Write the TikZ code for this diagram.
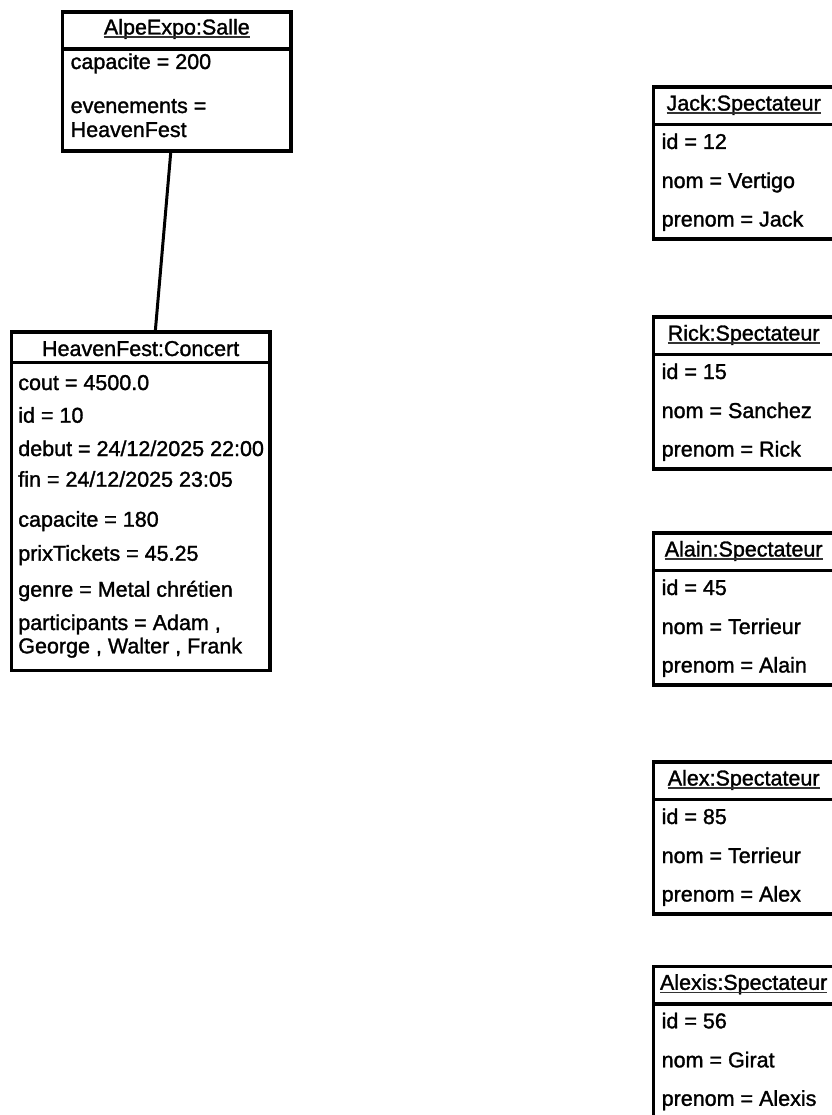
\documentclass[tikz,border=0pt]{standalone}
\usepackage{fontspec}
\setmainfont[FakeBold=1.4]{Liberation Sans}
\newcommand\attrfont{\fontsize{21.5}{24}\selectfont}
\tikzset{
  objbox/.style={draw, line width=3.5pt, inner sep=0pt, outer sep=0pt, anchor=north west},
  sepline/.style={line width=3.5pt},
  txt/.style={inner sep=0pt, outer sep=0pt, anchor=base west, font=\attrfont},
  ttl/.style={inner sep=0pt, outer sep=0pt, anchor=base, font=\attrfont},
  uline/.style={line width=1.3pt, black!80},
  link/.style={line width=3pt},
}
\begin{document}
\begin{tikzpicture}[x=1pt,y=-1pt]
\fill[white] (0,0) rectangle (831,1115);
\useasboundingbox (0,0) rectangle (831,1115);

% ---- AlpeExpo:Salle
\node[objbox, minimum width=228.3pt, minimum height=139pt] (salle) at (62.7,12) {};
\draw[sepline] ([yshift=-37pt]salle.north west) -- ([yshift=-37pt]salle.north east);
\node[ttl] (st) at (176.85,34.5) {AlpeExpo:Salle};
\draw[uline] ([yshift=-2.5pt]st.base west) -- ([yshift=-2.5pt]st.base east);
\node[txt] (s1) at (70.7,69) {capacite = 200};
\node[txt] (s2) at (70.7,113) {evenements =};
\node[txt] (s3) at (70.7,137) {HeavenFest};

% ---- HeavenFest:Concert
\node[objbox, minimum width=258.7pt, minimum height=338.5pt] (concert) at (11.3,332) {};
\draw[sepline] ([yshift=-30.5pt]concert.north west) -- ([yshift=-30.5pt]concert.north east);
\node[ttl] (ct) at (140.65,356) {HeavenFest:Concert};
\node[txt] (c1) at (18.3,390) {cout = 4500.0};
\node[txt] (c2) at (18.3,422.7) {id = 10};
\node[txt] (c3) at (18.3,456) {debut = 24/12/2025 22:00};
\node[txt] (c4) at (18.3,486.7) {fin = 24/12/2025 23:05};
\node[txt] (c5) at (18.3,526.7) {capacite = 180};
\node[txt] (c6) at (18.3,560.7) {prixTickets = 45.25};
\node[txt] (c7) at (18.3,596.7) {genre = Metal chrétien};
\node[txt] (c8) at (18.3,630) {participants = Adam ,};
\node[txt] (c9) at (18.3,653.3) {George , Walter , Frank};

% ---- link
\draw[link] (salle) -- (concert);

% ---- Spectateurs
\foreach \nm/\T/\ti/\id/\nom/\pre in {
  jack/87/Jack:Spectateur/12/Vertigo/Jack,
  rick/317/Rick:Spectateur/15/Sanchez/Rick,
  alain/533/Alain:Spectateur/45/Terrieur/Alain,
  alex/762/Alex:Spectateur/85/Terrieur/Alex,
  alexis/966.3/Alexis:Spectateur/56/Girat/Alexis}{
  \node[objbox, minimum width=190pt, minimum height=152pt] (\nm) at (653.3,\T) {};
  \draw[sepline] ([yshift=-37.5pt]\nm.north west) -- ([yshift=-37.5pt]\nm.north east);
  \node[ttl] (\nm t) at (743.65,\T+23.5) {\ti};
  \draw[uline] ([yshift=-2.5pt]\nm t.base west) -- ([yshift=-2.5pt]\nm t.base east);
  \node[txt] (\nm 1) at (661.7,\T+62) {id = \id};
  \node[txt] (\nm 2) at (661.7,\T+101) {nom = \nom};
  \node[txt] (\nm 3) at (661.7,\T+139.5) {prenom = \pre};
}
\end{tikzpicture}
\end{document}
